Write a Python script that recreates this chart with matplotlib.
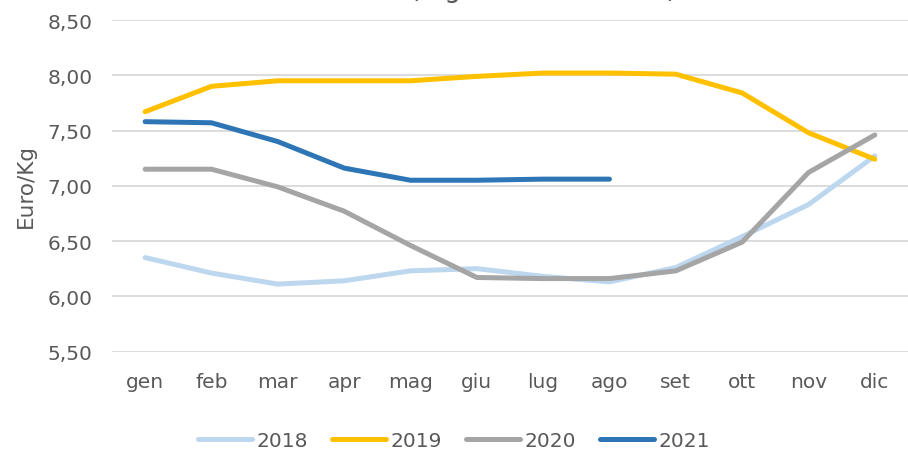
import matplotlib.pyplot as plt

mesi = ['gen', 'feb', 'mar', 'apr', 'mag', 'giu', 'lug', 'ago', 'set', 'ott', 'nov', 'dic']
prezzi_2018 = [6.35, 6.21, 6.11, 6.14, 6.23, 6.25, 6.18, 6.13, 6.26, 6.54, 6.83, 7.27]
prezzi_2019 = [7.67, 7.90, 7.95, 7.95, 7.95, 7.99, 8.02, 8.02, 8.01, 7.84, 7.48, 7.24]
prezzi_2020 = [7.15, 7.15, 6.99, 6.77, 6.46, 6.17, 6.16, 6.16, 6.23, 6.49, 7.12, 7.46]
prezzi_2021 = [7.58, 7.57, 7.40, 7.16, 7.05, 7.05, 7.06, 7.06]
y_ticks = [5.5, 6.0, 6.5, 7.0, 7.5, 8.0, 8.5]

plt.rcParams['font.family'] = ['DejaVu Sans']
grigio = '#595959'

fig = plt.figure(figsize=(9.08, 4.52), dpi=100)
ax = fig.add_axes([0.1233, 0.2201, 0.8767, 0.7334])

serie = [('2018', prezzi_2018, '#BDD7EE'),
         ('2019', prezzi_2019, '#FFC000'),
         ('2020', prezzi_2020, '#A5A5A5'),
         ('2021', prezzi_2021, '#2E75B6')]
for nome, valori, colore in serie:
    ax.plot(range(len(valori)), valori, color=colore, lw=3.6, label=nome,
            solid_capstyle='round', solid_joinstyle='round')

ax.set_xlim(-0.5, 11.5)
ax.set_ylim(5.5, 8.5)
ax.set_xticks(range(12))
ax.set_xticklabels(mesi)
ax.set_yticks(y_ticks)
ax.set_yticklabels([f'{v:.2f}'.replace('.', ',') for v in y_ticks])
ax.grid(axis='y', color='#d9d9d9', lw=1.3)
ax.set_axisbelow(True)
for s in ax.spines.values():
    s.set_visible(False)
ax.tick_params(length=0, labelsize=14.5, labelcolor=grigio)
ax.tick_params(axis='x', pad=15)
ax.tick_params(axis='y', pad=14)

fig.text(0.028, 0.588, 'Euro/Kg', rotation=90, ha='center', va='center',
         fontsize=15.5, color=grigio)

# titolo tagliato in alto, come nell'originale
fig.text(0.51, 1.0075, 'Prezzi medi (ingrosso nazionale)', ha='center',
         va='baseline', fontsize=19, color=grigio)

leg = fig.legend(loc='center', bbox_to_anchor=(0.5, 0.024), ncol=4, frameon=False,
                 fontsize=14.5, handlelength=2.7, handletextpad=0.2, columnspacing=1.2,
                 labelcolor=grigio)

plt.savefig('out.png', dpi=100)
plt.close()
